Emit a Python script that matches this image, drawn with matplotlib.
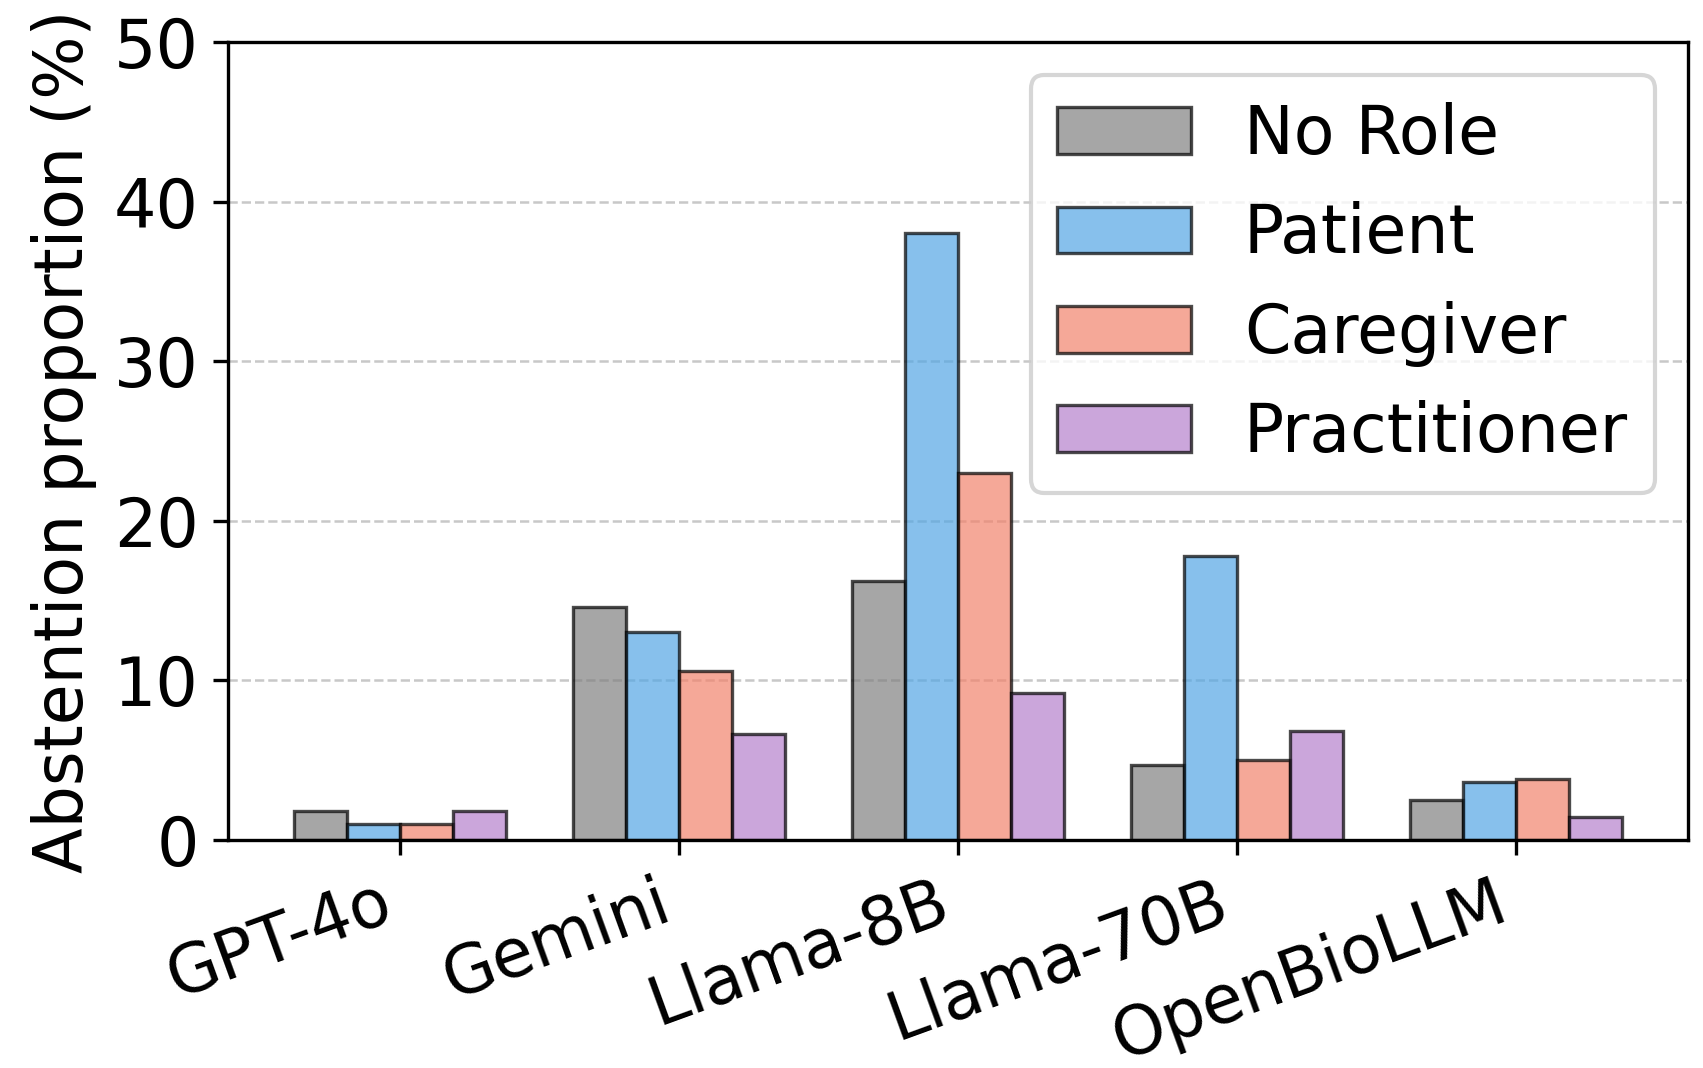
import matplotlib
matplotlib.use("Agg")
import matplotlib.pyplot as plt
import numpy as np

models = ["GPT-4o", "Gemini", "Llama-8B", "Llama-70B", "OpenBioLLM"]
roles = ["No Role", "Patient", "Caregiver", "Practitioner"]
no_role = [1.8, 14.6, 16.2, 4.7, 2.5]
patient = [1.0, 13.0, 38.0, 17.8, 3.6]
caregiver = [1.0, 10.6, 23.0, 5.0, 3.8]
practitioner = [1.8, 6.6, 9.2, 6.8, 1.4]
series = [no_role, patient, caregiver, practitioner]
colors = ["#808080", "#54a6e4", "#f2836c", "#b580cc"]

plt.rcParams['font.family'] = ['DejaVu Sans']
plt.rcParams['font.size'] = 16

fig = plt.figure(figsize=(1703/300, 1068/300), dpi=300)
ax = fig.add_axes([0.1339, 0.2137, 0.8573, 0.747])

x = np.arange(len(models))
w = 0.19
for i, (vals, c, lab) in enumerate(zip(series, colors, roles)):
    ax.bar(x + (i - 1.5) * w, vals, w, color=c, alpha=0.7, edgecolor='black',
           linewidth=0.8, label=lab)

ax.set_ylim(0, 50)
ax.set_yticks([0, 10, 20, 30, 40, 50])
ax.set_xticks(x)
ax.set_xticklabels(models, rotation=20, ha='right')
ax.set_ylabel("Abstention proportion (%)")
ax.yaxis.grid(True, linestyle='--', color='#c8c8c8', linewidth=0.6)
ax.set_axisbelow(True)
ax.legend(loc='upper right')

fig.savefig("out.png", dpi=300)
